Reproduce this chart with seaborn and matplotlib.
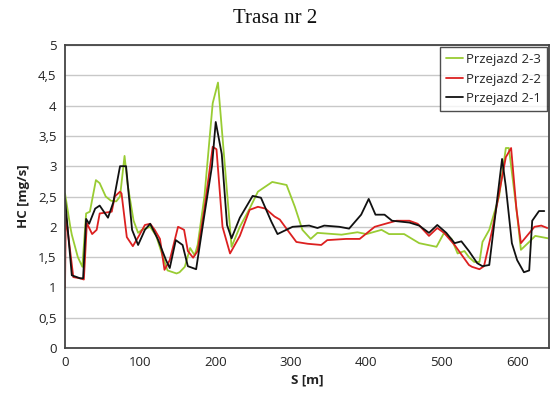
import matplotlib
matplotlib.use("Agg")
import matplotlib.pyplot as plt
import matplotlib.ticker as mticker
import seaborn as sns
import pandas as pd

# Przejazd 2-1 (black)
s21 = [0, 9, 20, 24, 28, 32, 40, 46, 57, 64, 73, 81, 89, 97, 106, 113, 123, 134, 139, 147,
       156, 163, 174, 185, 195, 200, 208, 215, 221, 232, 249, 260, 274, 282, 302, 324, 335,
       344, 364, 377, 393, 403, 412, 424, 434, 457, 470, 483, 494, 506, 517, 526, 536, 547,
       554, 563, 580, 585, 593, 600, 609, 616, 620, 629, 636]
hc21 = [2.47, 1.2, 1.15, 1.15, 2.13, 2.05, 2.3, 2.35, 2.15, 2.4, 3.0, 3.0, 1.95, 1.7, 1.95,
        2.05, 1.8, 1.45, 1.32, 1.78, 1.7, 1.35, 1.3, 2.2, 3.0, 3.73, 3.2, 2.03, 1.81, 2.15,
        2.51, 2.48, 2.08, 1.88, 2.0, 2.02, 1.98, 2.02, 2.0, 1.97, 2.2, 2.46, 2.2, 2.2, 2.1,
        2.07, 2.02, 1.9, 2.03, 1.9, 1.73, 1.76, 1.6, 1.4, 1.35, 1.37, 3.12, 2.66, 1.73, 1.45,
        1.25, 1.28, 2.1, 2.26, 2.26]

# Przejazd 2-2 (red)
s22 = [0, 1, 11, 20, 25, 29, 36, 42, 46, 57, 62, 66, 73, 75, 82, 90, 99, 106, 113, 119, 126,
       132, 139, 150, 158, 163, 170, 176, 185, 196, 201, 209, 219, 232, 245, 256, 266, 278,
       285, 295, 307, 322, 340, 348, 373, 391, 411, 428, 440, 457, 468, 483, 494, 503, 517,
       536, 540, 550, 556, 567, 579, 585, 592, 599, 605, 613, 623, 632, 640]
hc22 = [1.0, 2.2, 1.17, 1.15, 1.13, 2.06, 1.88, 1.95, 2.22, 2.24, 2.25, 2.5, 2.58, 2.55, 1.83,
        1.68, 1.87, 2.03, 2.05, 1.95, 1.8, 1.29, 1.45, 2.0, 1.95, 1.6, 1.49, 1.6, 2.3, 3.32,
        3.28, 2.0, 1.56, 1.85, 2.28, 2.33, 2.3, 2.17, 2.12, 1.95, 1.75, 1.72, 1.7, 1.78, 1.8,
        1.8, 2.0, 2.06, 2.1, 2.1, 2.05, 1.85, 1.98, 1.9, 1.7, 1.37, 1.34, 1.3, 1.35, 1.95,
        2.75, 3.15, 3.3, 2.3, 1.73, 1.85, 2.0, 2.02, 1.98]

# Przejazd 2-3 (green)
s23 = [0, 7, 9, 17, 23, 28, 33, 41, 46, 54, 61, 68, 73, 79, 83, 91, 97, 102, 113, 121, 130,
       136, 148, 152, 159, 166, 172, 176, 185, 196, 203, 221, 232, 245, 256, 275, 294, 305,
       315, 326, 335, 367, 388, 400, 420, 430, 450, 470, 493, 503, 513, 521, 530, 536, 543,
       550, 554, 563, 576, 585, 589, 599, 605, 616, 624, 641]
hc23 = [2.55, 2.0, 1.87, 1.5, 1.34, 2.22, 2.25, 2.77, 2.72, 2.5, 2.43, 2.42, 2.5, 3.17, 2.7,
        2.1, 1.9, 1.95, 2.0, 1.85, 1.5, 1.28, 1.23, 1.25, 1.34, 1.65, 1.53, 1.7, 2.5, 4.04,
        4.38, 1.67, 2.0, 2.3, 2.58, 2.74, 2.69, 2.33, 1.95, 1.8, 1.9, 1.87, 1.91, 1.88, 1.95,
        1.88, 1.88, 1.73, 1.67, 1.9, 1.8, 1.56, 1.6, 1.5, 1.42, 1.42, 1.75, 1.95, 2.5, 3.3,
        3.3, 2.3, 1.62, 1.75, 1.85, 1.81]

names = ["Przejazd 2-3", "Przejazd 2-2", "Przejazd 2-1"]
colors = ["#99cc33", "#dc2020", "#111111"]

df = pd.concat([
    pd.DataFrame({"S": s23, "HC": hc23, "seria": names[0]}),
    pd.DataFrame({"S": s22, "HC": hc22, "seria": names[1]}),
    pd.DataFrame({"S": s21, "HC": hc21, "seria": names[2]}),
], ignore_index=True)

sns.set_theme(style="white")
plt.rcParams["font.family"] = ["Open Sans", "DejaVu Sans"]

fig = plt.figure(figsize=(5.51, 4.0), dpi=100)
ax = fig.add_axes([0.118, 0.13, 0.878, 0.7575])

sns.lineplot(data=df, x="S", y="HC", hue="seria", hue_order=names,
             palette=dict(zip(names, colors)), sort=False, estimator=None,
             linewidth=1.3, ax=ax)

ax.set_xlim(0, 642)
ax.set_ylim(0, 5)
ax.set_xticks([0, 100, 200, 300, 400, 500, 600])
ax.set_yticks([0, 0.5, 1, 1.5, 2, 2.5, 3, 3.5, 4, 4.5, 5])
ax.yaxis.set_major_formatter(mticker.FuncFormatter(
    lambda v, p: ("%g" % v).replace(".", ",")))
ax.tick_params(axis="both", labelsize=9.5, colors="#222222", length=0, pad=6)
ax.yaxis.grid(True, color="#c8c8c8", linewidth=1.0)
ax.xaxis.grid(False)
ax.set_axisbelow(True)
for sp in ax.spines.values():
    sp.set_color("#444444")
    sp.set_linewidth(1.3)
    sp.set_visible(True)

ax.set_xlabel("S [m]", fontsize=9.5, fontweight="bold", color="#222222", labelpad=3)
ax.set_ylabel("HC [mg/s]", fontsize=9.5, fontweight="bold", color="#222222", labelpad=6)

fig.text(0.5, 0.953, "Trasa nr 2", ha="center", va="center", fontsize=15,
         family="Liberation Serif", color="#111111")

leg = ax.legend(loc="upper right", fontsize=9.5, frameon=True, fancybox=False,
                handlelength=1.3, handletextpad=0.2, borderpad=0.45,
                labelspacing=0.5, borderaxespad=0.15)
leg.get_frame().set_edgecolor("#222222")
leg.get_frame().set_linewidth(1.0)
for line in leg.get_lines():
    line.set_linewidth(1.3)

fig.savefig("out.png", dpi=100)
